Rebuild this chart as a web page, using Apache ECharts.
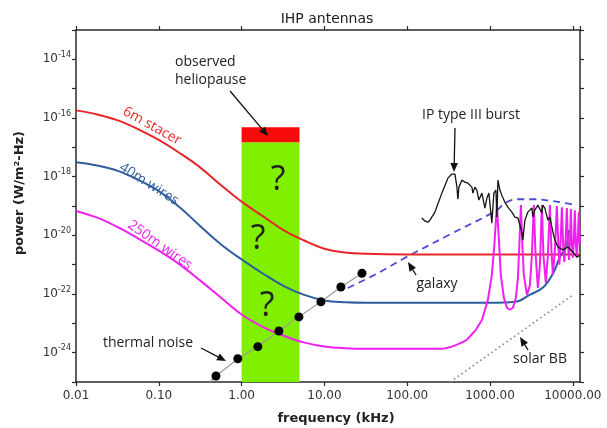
<!DOCTYPE html>
<html>
<head>
<meta charset="utf-8">
<script src="https://cdn.jsdelivr.net/npm/echarts@6/dist/echarts.min.js"></script>
<style>
  html, body { margin: 0; padding: 0; background: #fff; }
  #chart { width: 607px; height: 428px; }
</style>
</head>
<body>
<div id="chart"></div>
<script>
// Axis ranges (frequency in kHz, power in W/m^2-Hz)
const freqRange = [0.01, 12200];
const powerRange = [1e-25, 1e-13];

// Frequencies (kHz) at which the antenna noise curves are sampled
const antennaFreq = [0.01, 0.018, 0.032, 0.056, 0.1, 0.18, 0.32, 0.56, 1, 1.8, 3.2, 5.6, 10, 18, 32, 100];

// 6 m stacer antenna noise
const stacerFreq  = antennaFreq.concat([1000, 12200]);
const stacerPower = [1.82e-16, 1.32e-16, 8.3e-17, 4.2e-17, 1.78e-17, 6.3e-18, 2.0e-18, 5.2e-19, 1.41e-19, 4.5e-20, 1.51e-20, 6.8e-21, 3.5e-21, 2.6e-21, 2.34e-21, 2.24e-21, 2.24e-21, 2.24e-21];

// 40 m wire antenna noise
const wire40Freq  = antennaFreq.concat([1000, 2000, 3000, 4400, 5800, 6900, 8200, 9000]);
const wire40Power = [3.1e-18, 2.4e-18, 1.58e-18, 7.9e-19, 3.2e-19, 8.9e-20, 2.0e-20, 5.0e-21, 1.51e-21, 5.0e-22, 1.9e-22, 9.5e-23, 6.0e-23, 5.2e-23, 5.0e-23, 5.0e-23, 5.0e-23, 5.4e-23, 9.3e-23, 1.7e-22, 5.2e-22, 1.7e-21, 4.0e-21, 1.5e-20];

// 250 m wire antenna noise, smooth low-frequency part
const wire250Freq  = antennaFreq.concat([250, 525]);
const wire250Power = [6.8e-20, 4.0e-20, 1.9e-20, 7.9e-21, 3.0e-21, 1.0e-21, 2.8e-22, 7.6e-23, 2.0e-23, 7.6e-24, 3.8e-24, 2.24e-24, 1.62e-24, 1.41e-24, 1.35e-24, 1.35e-24, 1.35e-24, 2.75e-24];

// 250 m wire antenna resonances above ~1 MHz  [kHz, W/m^2-Hz]
const wire250Resonances = [
  [525, 2.75e-24], [675, 6.0e-24], [798, 1.3e-23], [942, 6.3e-23], [1052, 4.5e-22], [1128, 4.7e-21],
  [1210, 1.07e-19], [1280, 6.9e-21], [1350, 4.5e-22], [1470, 7.4e-23], [1600, 3.4e-23], [1740, 2.9e-23],
  [1890, 3.4e-23], [2050, 7.4e-23], [2170, 3.5e-22], [2260, 4.7e-21],
  [2360, 1.07e-19], [2455, 4.7e-21], [2560, 4.5e-22], [2790, 9.3e-23], [3030, 2.0e-22], [3200, 2.1e-21],
  [3380, 1.07e-19], [3525, 3.2e-21], [3780, 1.6e-22], [4000, 9.8e-22],
  [4230, 1.07e-19], [4410, 2.1e-21], [4720, 2.4e-22], [4990, 2.1e-21],
  [5280, 1.07e-19], [5510, 3.2e-21], [5740, 4.5e-22], [6070, 3.2e-21],
  [6410, 1.0e-19], [6680, 4.7e-21], [6870, 1.0e-21], [7130, 6.9e-21],
  [7370, 9.1e-20], [7640, 4.7e-21], [7890, 1.23e-21], [8180, 6.9e-21],
  [8460, 8.5e-20], [8750, 4.7e-21], [9000, 1.45e-21], [9250, 6.9e-21],
  [9460, 7.9e-20], [9730, 4.7e-21], [10000, 1.7e-21], [10280, 6.9e-21],
  [10560, 7.2e-20], [10870, 4.7e-21], [11170, 1.8e-21], [11500, 1.0e-20],
  [11830, 6.3e-20], [12100, 5.0e-21]
];

// Interplanetary type III burst spectrum  [kHz, W/m^2-Hz]
const typeIIIBurst = [
  [150, 3.9e-20], [163, 3.1e-20], [178, 2.8e-20], [188, 3.3e-20], [216, 6.2e-20], [262, 2.75e-19],
  [310, 8.9e-19], [346, 1.23e-18], [377, 1.23e-18], [398, 4.4e-19], [409, 1.7e-19], [421, 4.4e-19],
  [457, 7.6e-19], [497, 6.5e-19], [541, 6.0e-19], [571, 6.5e-19], [604, 4.4e-19], [621, 2.75e-19],
  [656, 4.4e-19], [693, 3.5e-19], [733, 1.6e-19], [798, 2.75e-19], [820, 2.95e-19], [867, 8.5e-20],
  [916, 1.86e-19], [968, 2.75e-19], [1023, 5.8e-20], [1052, 2.6e-20], [1112, 2.75e-19], [1177, 3.5e-19],
  [1210, 4.2e-20], [1245, 7.6e-19], [1315, 3.5e-19], [1390, 2.3e-19], [1510, 1.35e-19], [1641, 9.1e-20],
  [1836, 6.2e-20], [1995, 4.2e-20], [2170, 3.9e-20], [2423, 1.3e-20], [2490, 6.9e-21], [2636, 3.3e-20],
  [2864, 6.2e-20], [3200, 8.5e-20], [3290, 4.2e-20], [3475, 7.2e-20], [3781, 1.07e-19], [4227, 5.8e-20],
  [4345, 1.07e-19], [4592, 8.5e-20], [4990, 3.3e-20], [5280, 4.2e-20], [5740, 1.3e-20], [6070, 6.9e-21],
  [6590, 4.0e-21], [7580, 3.2e-21], [8710, 4.0e-21], [10000, 2.7e-21], [11190, 1.8e-21], [12160, 2.1e-21]
];

// Galactic background
const galaxyFreq  = [19.2, 46.8, 93.7, 327, 1210, 1510, 2170, 3475, 5580, 8020, 11190];
const galaxyPower = [1.6e-22, 5.6e-22, 1.7e-21, 1.07e-20, 7.2e-20, 1.26e-19, 1.7e-19, 1.7e-19, 1.48e-19, 1.26e-19, 1.07e-19];

// Quasi-thermal noise points and trend line
const thermalFreq  = [0.49, 0.9, 1.57, 2.82, 4.92, 9.07, 15.8, 28.4];
const thermalPower = [1.6e-25, 6.2e-25, 1.6e-24, 5.5e-24, 1.66e-23, 5.4e-23, 1.74e-22, 5.1e-22];
const thermalLineStart = [0.415, 1e-25];

// Solar black body
const solarBBFreq  = [330, 10000];
const solarBBPower = [1e-25, 9.3e-23];

// Observed heliopause band
const bandFreq = [1, 5];
const bandTop = 1.5e-17;
const heliopauseTop = 4.8e-17;

// Both axes are logarithmic: values are plotted as decades on value axes.
const lg = Math.log10;
const toLog = p => [lg(p[0]), lg(p[1])];
const logPairs = (xs, ys) => xs.map((x, i) => [lg(x), lg(ys[i])]);

const AXIS_COLOR = '#2a2a2a';
const TICK_FONT = '"DejaVu Sans", sans-serif';
const NOTE_FONT = '"Open Sans", "Noto Sans", sans-serif';

function xAxisDef(pos, labels) {
  return {
    type: 'value', position: pos,
    min: lg(freqRange[0]), max: lg(freqRange[1]), interval: 1,
    axisLine: { show: true, onZero: false, lineStyle: { color: AXIS_COLOR, width: 1.5 } },
    axisTick: { show: true, inside: false, length: 4, lineStyle: { color: AXIS_COLOR, width: 1.2 } },
    axisLabel: {
      show: labels, margin: 8, color: '#333', fontSize: 12, fontFamily: TICK_FONT,
      showMaxLabel: false,
      formatter: v => Math.pow(10, v).toFixed(2)
    },
    splitLine: { show: false }
  };
}

function yAxisDef(pos, labels) {
  return {
    type: 'value', position: pos,
    min: lg(powerRange[0]), max: lg(powerRange[1]), interval: 1,
    axisLine: { show: true, onZero: false, lineStyle: { color: AXIS_COLOR, width: 1.5 } },
    axisTick: { show: true, inside: false, length: 4, lineStyle: { color: AXIS_COLOR, width: 1.2 } },
    axisLabel: {
      show: labels, margin: 5, color: '#333', fontSize: 12, fontFamily: TICK_FONT,
      formatter: v => {
        const e = Math.round(v);
        return e % 2 === 0 ? '10{sup|' + e + '}' : '';
      },
      rich: { sup: { fontSize: 8, fontFamily: TICK_FONT, color: '#333', padding: [0, 0, 9, 0] } }
    },
    splitLine: { show: false }
  };
}

function arrow(x1, y1, x2, y2) {
  const a = Math.atan2(y2 - y1, x2 - x1), L = 9, W = 3.8;
  const bx = x2 - L * Math.cos(a), by = y2 - L * Math.sin(a);
  const nx = -Math.sin(a) * W, ny = Math.cos(a) * W;
  return [
    { type: 'line', z: 100, shape: { x1: x1, y1: y1, x2: bx, y2: by }, style: { stroke: '#111', lineWidth: 1.3 } },
    { type: 'polygon', z: 100, shape: { points: [[x2, y2], [bx + nx, by + ny], [bx - nx, by - ny]] }, style: { fill: '#111' } }
  ];
}

function note(text, x, y, opts) {
  opts = opts || {};
  return {
    type: 'text', z: 100, x: x, y: y, rotation: opts.rotation || 0,
    style: {
      text: text, fill: opts.color || '#222',
      font: (opts.weight || 'normal') + ' ' + (opts.size || 14) + 'px ' + (opts.family || NOTE_FONT),
      align: opts.align || 'center', verticalAlign: 'middle'
    }
  };
}

const deg = Math.PI / 180;
const curve = (name, data, color, z) => ({
  name: name, type: 'line', z: z || 4, showSymbol: false, silent: true, smooth: 0.4,
  data: data, lineStyle: { color: color, width: 2 }
});

const chart = echarts.init(document.getElementById('chart'), null, { renderer: 'canvas' });

chart.setOption({
  animation: false,
  backgroundColor: '#fff',
  grid: { left: 76, right: 27, top: 30, bottom: 46, containLabel: false },
  xAxis: [xAxisDef('bottom', true), xAxisDef('top', false)],
  yAxis: [yAxisDef('left', true), yAxisDef('right', false)],
  series: [
    {
      name: 'band', type: 'line', z: 1, silent: true, showSymbol: false,
      data: [[lg(bandFreq[0]), lg(powerRange[0])], [lg(bandFreq[1]), lg(powerRange[0])]],
      lineStyle: { opacity: 0 },
      markArea: {
        silent: true,
        data: [
          [{ coord: [lg(bandFreq[0]), lg(powerRange[0])], itemStyle: { color: '#80f000', opacity: 1 } }, { coord: [lg(bandFreq[1]), lg(bandTop)] }],
          [{ coord: [lg(bandFreq[0]), lg(bandTop)], itemStyle: { color: '#f70a0a', opacity: 1 } }, { coord: [lg(bandFreq[1]), lg(heliopauseTop)] }]
        ]
      }
    },
    {
      name: 'solar BB', type: 'line', z: 3, showSymbol: false, silent: true,
      data: logPairs(solarBBFreq, solarBBPower),
      lineStyle: { color: '#8484a8', width: 1.6, type: [1.6, 3] }
    },
    {
      name: 'thermal trend', type: 'line', z: 3, showSymbol: false, silent: true,
      data: [toLog(thermalLineStart)].concat(logPairs(thermalFreq, thermalPower)),
      lineStyle: { color: '#9a9a9a', width: 1.2 }
    },
    {
      name: 'galaxy', type: 'line', z: 3, showSymbol: false, silent: true, smooth: 0.4,
      data: logPairs(galaxyFreq, galaxyPower),
      lineStyle: { color: '#4b4bd6', width: 1.8, type: [7, 5] }
    },
    curve('6m stacer', logPairs(stacerFreq, stacerPower), '#e8262a'),
    curve('40m wires', logPairs(wire40Freq, wire40Power), '#2f5d9e'),
    curve('250m wires', logPairs(wire250Freq, wire250Power), '#f020f0'),
    {
      name: '250m resonances', type: 'line', z: 4, showSymbol: false, silent: true,
      data: wire250Resonances.map(toLog),
      lineStyle: { color: '#f020f0', width: 2 }
    },
    {
      name: 'IP type III burst', type: 'line', z: 5, showSymbol: false, silent: true,
      data: typeIIIBurst.map(toLog),
      lineStyle: { color: '#151515', width: 1.3 }
    },
    {
      name: 'thermal noise', type: 'scatter', z: 6, silent: true,
      symbol: 'circle', symbolSize: 9,
      data: logPairs(thermalFreq, thermalPower),
      itemStyle: { color: '#000', opacity: 1 }
    }
  ],
  graphic: [
    note('IHP antennas', 327, 19, { family: TICK_FONT, size: 14, color: '#222' }),
    note('power (W/m\u00B2-Hz)', 20, 193, { family: TICK_FONT, size: 13, weight: 'bold', rotation: 90 * deg }),
    note('frequency (kHz)', 336, 419, { family: TICK_FONT, size: 13, weight: 'bold' }),

    note('observed', 175, 62, { align: 'left' }),
    note('heliopause', 175, 80, { align: 'left' }),
    ...arrow(230, 91, 268, 136),

    note('6m stacer', 152, 126, { color: '#e8262a', rotation: -29 * deg }),
    note('40m wires', 149, 184, { color: '#2f5d9e', rotation: -32 * deg }),
    note('250m wires', 160, 245, { color: '#f020f0', rotation: -35 * deg }),

    note('?', 278, 180, { size: 34 }),
    note('?', 258, 239, { size: 34 }),
    note('?', 267, 306, { size: 34 }),

    note('thermal noise', 148, 343),
    ...arrow(201, 348, 226, 361),

    note('galaxy', 437, 284),
    ...arrow(416, 275, 408, 262),

    note('IP type III burst', 471, 115),
    ...arrow(455, 128, 454, 172),

    note('solar BB', 540, 359),
    ...arrow(528, 350, 520, 337)
  ]
});
</script>
</body>
</html>
